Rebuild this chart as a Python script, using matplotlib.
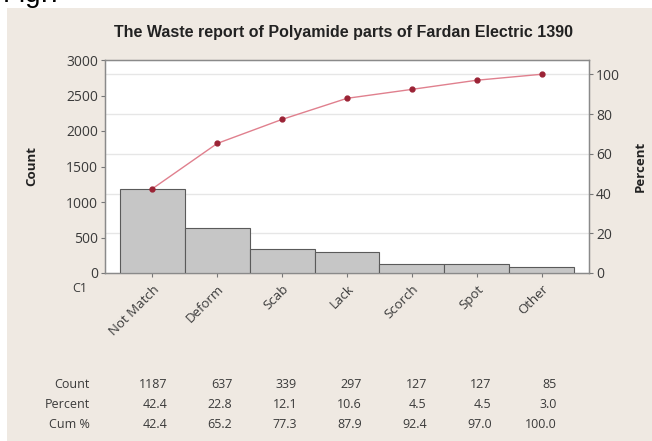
import matplotlib
matplotlib.use("Agg")
import matplotlib.pyplot as plt
import matplotlib.transforms as mtransforms
from matplotlib.patches import Rectangle
import numpy as np

# data
categories = ["Not Match", "Deform", "Scab", "Lack", "Scorch", "Spot", "Other"]
counts = [1187, 637, 339, 297, 127, 127, 85]
percents = [42.4, 22.8, 12.1, 10.6, 4.5, 4.5, 3.0]
cum_percents = [42.4, 65.2, 77.3, 87.9, 92.4, 97.0, 100.0]
count_ticks = [0, 500, 1000, 1500, 2000, 2500, 3000]
pct_ticks = [0, 20, 40, 60, 80, 100]

plt.rcParams['font.family'] = ['Open Sans', 'DejaVu Sans']
txt = '#3a3a3a'
W, H = 652, 441

fig = plt.figure(figsize=(W / 100, H / 100), dpi=100, facecolor='white')

# beige panel behind the minitab output
fig.patches.append(Rectangle((7 / W, 0), 1, 1 - 8 / H, transform=fig.transFigure,
                             facecolor='#efe9e2', edgecolor='none', zorder=-10))
fig.text(3 / W, 1 - 2 / H, "Fig.7", fontsize=20, color='black', va='baseline',
         family=['Liberation Sans'])

ax = fig.add_axes([105 / W, 1 - 273 / H, (589 - 105) / W, (273 - 60) / H])
ax.set_facecolor('white')
x = np.arange(len(categories))
total = sum(counts)

ax.bar(x, counts, width=1.0, color='#c6c6c6', edgecolor='#5a5a5a', linewidth=0.8, zorder=3)
ax.set_xlim(-0.73, len(categories) - 0.27)
ax.set_ylim(0, 3000)
ax.set_yticks(count_ticks)
ax.set_xticks(x)
ax.set_xticklabels(categories, rotation=45, ha='right', va='top', rotation_mode='anchor',
                   fontsize=9.5, color=txt)
ax.tick_params(axis='x', length=3, pad=4, color='#777777')
ax.tick_params(axis='y', length=3, labelsize=10, labelcolor=txt, color='#777777', pad=2)
for s in ax.spines.values():
    s.set_color('#8a8a8a')
    s.set_linewidth(1.0)
ax.set_ylabel("Count", fontsize=9.5, fontweight='bold', color='#222222', labelpad=20)

ax2 = ax.twinx()
ax2.set_ylim(0, 3000 / total * 100)
ax2.set_yticks(pct_ticks)
ax2.tick_params(axis='y', length=3, labelsize=10, labelcolor=txt, color='#777777', pad=2)
for s in ax2.spines.values():
    s.set_color('#8a8a8a')
ax2.set_ylabel("Percent", fontsize=9.5, fontweight='bold', color='#222222', labelpad=10)
# grid lines sit behind the bars, so draw them on the count axis
for p in pct_ticks[1:]:
    ax.axhline(p * total / 100, color='#e6e6e6', linewidth=1.0, zorder=1)
ax2.plot(x, cum_percents, color='#e0808e', linewidth=1.0, zorder=4)
ax2.plot(x, cum_percents, linestyle='none', marker='o', markersize=3.5,
         color='#9b2335', zorder=5)

fig.text(343 / W, 1 - 33 / H, "The Waste report of Polyamide parts of Fardan Electric 1390",
         ha='center', va='center', fontsize=11.5, fontweight='bold', color='#222222',
         family=['Liberation Sans'])
fig.text(80 / W, 1 - 288 / H, "C1", ha='center', va='center', fontsize=9, color=txt)

# table under the chart
trans = mtransforms.blended_transform_factory(ax.transData, fig.transFigure)
rows = [("Count", [str(c) for c in counts], 385),
        ("Percent", [f"{p:.1f}" for p in percents], 405),
        ("Cum %", [f"{p:.1f}" for p in cum_percents], 425)]
for name, vals, ypx in rows:
    fig.text(90 / W, 1 - ypx / H, name, ha='right', va='center', fontsize=9, color=txt)
    for xi, v in zip(x, vals):
        ax.text(xi + 0.23, 1 - ypx / H, v, transform=trans, ha='right', va='center',
                fontsize=9, color=txt)

fig.savefig("out.png", dpi=100, facecolor=fig.get_facecolor())
